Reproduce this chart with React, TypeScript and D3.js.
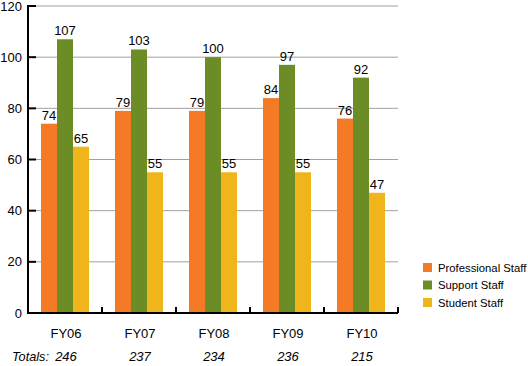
import React from "react";
import * as d3 from "d3";

const categories = ["FY06", "FY07", "FY08", "FY09", "FY10"];
const seriesNames = ["Professional Staff", "Support Staff", "Student Staff"];
const professional = [74, 79, 79, 84, 76];
const support = [107, 103, 100, 97, 92];
const student = [65, 55, 55, 55, 47];
const totals = [246, 237, 234, 236, 215];
const yTicks = [0, 20, 40, 60, 80, 100, 120];
const colors = ["#f47a26", "#6c8d25", "#f0b51b"];

export default function App() {
  const W = 528, H = 366;
  const x0 = 28, x1 = 398, yTop = 6, yBase = 313;
  const series = [professional, support, student];
  const x = d3.scaleBand<string>().domain(categories).range([x0, x1]).paddingInner(0).paddingOuter(0);
  const y = d3.scaleLinear().domain([0, 120]).range([yBase, yTop]);
  const barW = 16;
  const font = "Arial, 'Liberation Sans', Helvetica, sans-serif";
  return (
    <svg width={W} height={H} style={{ position: "absolute", left: 0, top: 0, background: "#fff" }} fontFamily={font}>
      {yTicks.map((t) => (
        <g key={t}>
          {t > 0 && <line x1={x0 + 8} x2={x1} y1={y(t)} y2={y(t)} stroke="#a0a0a0" strokeWidth={1} />}
          <line x1={x0} x2={x0 + 8} y1={y(t)} y2={y(t)} stroke="#000" strokeWidth={2} />
          <text x={22} y={y(t)} dy="0.35em" textAnchor="end" fontSize={13} fill="#000">{t}</text>
        </g>
      ))}
      {categories.map((c, i) => {
        const cx = (x(c) as number) + x.bandwidth() / 2;
        return (
          <g key={c}>
            {series.map((s, k) => {
              const bx = cx - 1.5 * barW + k * barW;
              return (
                <g key={k}>
                  <rect x={bx} y={y(s[i])} width={barW} height={yBase + 1 - y(s[i])} fill={colors[k]} />
                  <text x={bx + barW / 2} y={y(s[i]) - 4} textAnchor="middle" fontSize={13} fill="#000">{s[i]}</text>
                </g>
              );
            })}
            <text x={cx + 1} y={338} textAnchor="middle" fontSize={13} fill="#000">{c}</text>
            <text x={cx + 1} y={361} textAnchor="middle" fontSize={13} fontStyle="italic" fill="#000">{totals[i]}</text>
          </g>
        );
      })}
      <text x={12} y={361} fontSize={13} fontStyle="italic" fill="#000" textLength={37} lengthAdjust="spacingAndGlyphs">Totals:</text>
      {categories.map((c) => (
        <line key={c} x1={(x(c) as number) + x.bandwidth()} x2={(x(c) as number) + x.bandwidth()} y1={yBase} y2={yBase - 6} stroke="#000" strokeWidth={2} />
      ))}
      <line x1={x0} x2={x1} y1={yBase} y2={yBase} stroke="#000" strokeWidth={2} />
      <line x1={x0} x2={x0} y1={yTop - 1} y2={yBase + 1} stroke="#000" strokeWidth={2} />
      {seriesNames.map((n, k) => (
        <g key={n}>
          <rect x={423} y={263 + k * 17.5} width={9} height={9} fill={colors[k]} />
          <text x={438} y={268 + k * 17.5} dy="0.35em" fontSize={11.3} fill="#000">{n}</text>
        </g>
      ))}
    </svg>
  );
}
